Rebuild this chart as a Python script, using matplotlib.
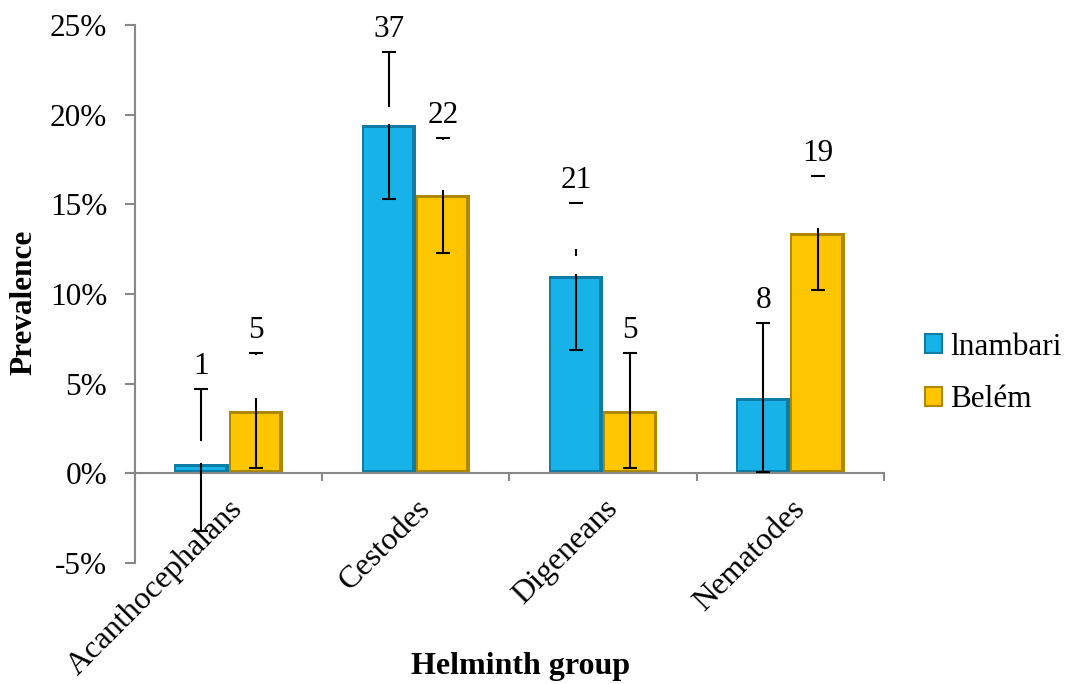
import numpy as np
import matplotlib
matplotlib.use("Agg")
import matplotlib.pyplot as plt
from matplotlib.patches import Patch

plt.rcParams['font.family'] = ['Liberation Serif', 'DejaVu Serif']

# data (prevalence in %)
groups = ["Acanthocephalans", "Cestodes", "Digeneans", "Nematodes"]
series = ["lnambari", "Belém"]
inambari = [0.5, 19.4, 11.0, 4.2]
belem = [3.5, 15.5, 3.5, 13.4]
inambari_lo = [3.7, 4.1, 4.1, 4.1]
inambari_hi = [4.2, 4.1, 4.1, 4.2]
belem_lo = [3.2, 3.2, 3.2, 3.2]
belem_hi = [3.2, 3.2, 3.2, 3.2]
inambari_n = [1, 37, 21, 8]
belem_n = [5, 22, 5, 19]
# parts of the error bars that do not show in the original (above the bars)
inambari_gaps = [[(0.6, 1.8)], [(19.5, 20.4)], [(11.1, 12.1), (12.5, 15.0)], []]
belem_gaps = [[(4.2, 6.6)], [(15.8, 18.6)], [], [(13.7, 16.5)]]
yticks = [-5, 0, 5, 10, 15, 20, 25]

col_main = ["#16B2E8", "#FFC600"]
col_edge = ["#0E7DA6", "#B08800"]
fs = 22.5

fig = plt.figure(figsize=(10.68, 6.84), dpi=100)
ax = fig.add_axes([0.1264, 0.1769, 0.7013, 0.7866])

# spine position first, it resets the ticks
ax.spines['top'].set_visible(False)
ax.spines['right'].set_visible(False)
ax.spines['bottom'].set_position(('data', 0))
for s in ['left', 'bottom']:
    ax.spines[s].set_color('#888888')
    ax.spines[s].set_linewidth(1.5)

x = np.arange(len(groups))
w = 0.29
dx = 3 / 187.0      # bevel inset, horizontal
dy = 0.17           # bevel inset, vertical (%)

for k, (vals, lo, hi, nn, gaps) in enumerate([
        (inambari, inambari_lo, inambari_hi, inambari_n, inambari_gaps),
        (belem, belem_lo, belem_hi, belem_n, belem_gaps)]):
    xs = x + (k - 0.5) * w
    vals = np.array(vals)
    ax.bar(xs, vals, w, color=col_edge[k], zorder=2)
    inner = np.clip(vals - 2 * dy, 0, None)
    ax.bar(xs - dx * 0.3, inner, w - 2 * dx, bottom=dy, color=col_main[k], zorder=2.1)
    ax.errorbar(xs, vals, yerr=[lo, hi], fmt='none', ecolor='black',
                elinewidth=1.5, capsize=5, capthick=1.5, zorder=3)
    for xi, g in zip(xs, gaps):
        for g0, g1 in g:
            ax.vlines(xi, g0, g1, color='white', linewidth=3, zorder=3.2,
                      capstyle='butt')
    for xi, v, h, n in zip(xs, vals, hi, nn):
        ax.annotate(str(n), (xi, v + h), xytext=(0, 16), textcoords='offset points',
                    ha='center', va='center', fontsize=fs, zorder=4)

ax.set_xlim(-0.5, len(groups) - 0.5)
ax.set_ylim(-5, 25)
ax.set_yticks(yticks)
ax.set_yticklabels(["%d%%" % t for t in yticks], fontsize=fs)
ax.tick_params(axis='y', length=7, width=1.5, color='#888888', pad=13)

ax.set_xticks(x)
ax.set_xticks(np.arange(len(groups) + 1) - 0.5, minor=True)
ax.tick_params(axis='x', which='major', length=0, pad=15)
ax.tick_params(axis='x', which='minor', length=6, width=1.5, color='#888888')
ax.set_xticklabels(groups, rotation=45, ha='right', rotation_mode='anchor',
                   fontsize=23)
for t in ax.get_xticklabels():
    t.set_bbox(dict(facecolor='white', edgecolor='none', pad=0))
ax.set_axisbelow(False)

fig.text(0.022, 0.558, "Prevalence", rotation=90, ha='center', va='center',
         fontsize=22.5, fontweight='bold')
fig.text(0.487, 0.026, "Helminth group", ha='center', va='center',
         fontsize=23, fontweight='bold')

handles = [Patch(facecolor=col_main[i], edgecolor=col_edge[i], linewidth=1.5) for i in range(2)]
fig.legend(handles, series, loc='center left', bbox_to_anchor=(0.866, 0.454),
           frameon=False, fontsize=22.5, handlelength=0.55, handleheight=0.55,
           handletextpad=0.25, labelspacing=0.75, borderpad=0, borderaxespad=0)

fig.savefig("out.png", dpi=100)
